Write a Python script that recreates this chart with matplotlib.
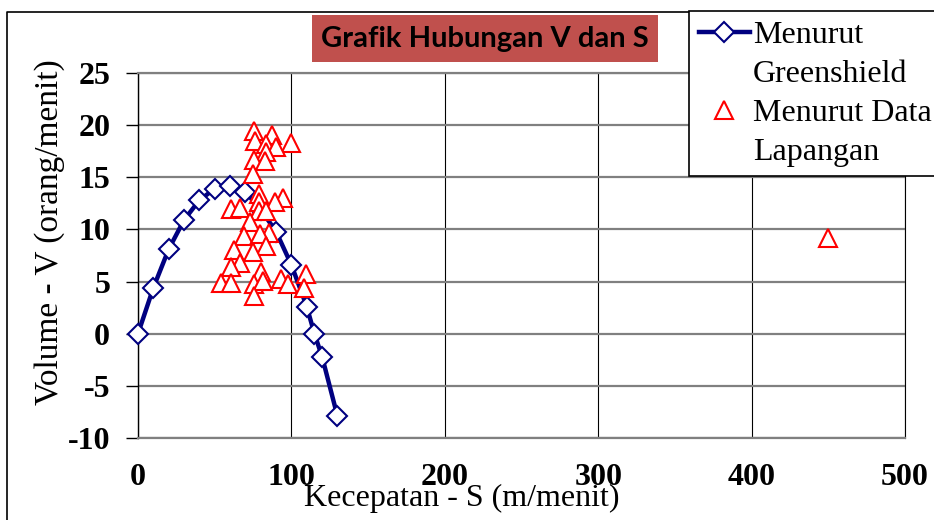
import matplotlib.pyplot as plt
from matplotlib.lines import Line2D
from matplotlib.patches import Rectangle

# Greenshield model curve
s_greenshield = [0, 10, 20, 30, 40, 50, 60, 70, 80, 90, 100, 110, 115, 120, 130]
v_greenshield = [0, 4.4, 8.1, 10.9, 12.8, 13.9, 14.2, 13.6, 11.9, 9.8, 6.6, 2.6, 0, -2.2, -7.9]

# field data (data lapangan)
s_lapangan = [75.5, 87.2, 99.9, 76, 83.6, 90, 83.6, 75.5, 82.5, 74.9, 79.2, 94.4, 89,
              60.8, 66.2, 79.2, 79.2, 72.7, 83.6, 85.7, 69.4, 79.5, 83.6, 74.8, 62.9,
              66.2, 60.8, 80.3, 109.6, 93.4, 54.2, 60.8, 75.9, 81.5, 97.7, 108.5, 75.9, 450]
v_lapangan = [19.4, 19.1, 18.3, 18.5, 18.2, 17.9, 17.4, 16.7, 16.6, 15.3, 13.4, 13.0, 12.6,
              12.0, 12.1, 12.6, 11.8, 10.7, 11.8, 9.7, 9.4, 9.6, 8.4, 7.8, 8.0,
              6.8, 6.4, 5.9, 5.7, 5.2, 4.9, 4.9, 4.8, 5.1, 4.8, 4.4, 3.6, 9.2]

x_ticks = [0, 100, 200, 300, 400, 500]
y_ticks = [-10, -5, 0, 5, 10, 15, 20, 25]

plt.rcParams['font.family'] = ['Liberation Serif', 'DejaVu Serif']

W, H = 934, 520
fig = plt.figure(figsize=(W / 100, H / 100), dpi=100)
ax = fig.add_axes([138 / W, 1 - 438 / H, (905 - 138) / W, (438 - 73) / H])

navy = '#000080'
ax.plot(s_greenshield, v_greenshield, color=navy, lw=3.2, marker='D', ms=10,
        mfc='white', mec=navy, mew=1.5, zorder=3, clip_on=False)
ax.plot(s_lapangan, v_lapangan, ls='none', marker='^', ms=13.5, mfc='white',
        mec='red', mew=1.5, zorder=4, clip_on=False)

ax.set_xlim(0, 500)
ax.set_ylim(-10, 25)
ax.set_xticks(x_ticks)
ax.set_yticks(y_ticks)
ax.set_xticklabels([str(t) for t in x_ticks], fontsize=23, fontweight='bold')
ax.set_yticklabels([str(t) for t in y_ticks], fontsize=23, fontweight='bold')
ax.tick_params(axis='x', length=0, pad=18)
ax.tick_params(axis='y', length=9, width=1, direction='out', pad=11)

ax.yaxis.grid(True, color='#808080', lw=1.6)
ax.xaxis.grid(True, color='black', lw=0.8)
ax.set_axisbelow(True)
ax.spines['left'].set_color('black')
ax.spines['left'].set_linewidth(1)
ax.spines['bottom'].set_color('#808080')
ax.spines['bottom'].set_linewidth(1.6)
ax.spines['top'].set_color('#808080')
ax.spines['top'].set_linewidth(1.6)
ax.spines['right'].set_color('black')
ax.spines['right'].set_linewidth(0.8)

fig.text(50 / W, 1 - 232 / H, 'Volume - V (orang/menit)', rotation=90,
         ha='center', va='center', fontsize=24)
fig.text(462 / W, 1 - 498 / H, 'Kecepatan - S (m/menit)',
         ha='center', va='center', fontsize=23)

# outer chart frame
fig.add_artist(Line2D([7 / W, 7 / W, 1], [0, 1 - 12 / H, 1 - 12 / H],
                      transform=fig.transFigure, color='black', lw=1.2))

# title box
fig.add_artist(Rectangle((312 / W, 1 - 62 / H), 346 / W, 47 / H,
                         transform=fig.transFigure, facecolor='#C0504D', edgecolor='none'))
fig.text(485 / W, 1 - 39 / H, 'Grafik Hubungan V dan S', ha='center', va='center',
         fontsize=21, fontweight='bold', family='Lato', color='black')

# legend: handle sits on the first line of each two-line label
blank = Line2D([], [], ls='none')
handles = [Line2D([], [], color=navy, lw=3.2, marker='D', ms=10, mfc='white', mec=navy, mew=1.5),
           blank,
           Line2D([], [], ls='none', marker='^', ms=13.5, mfc='white', mec='red', mew=1.5),
           blank]
labels = ['Menurut', 'Greenshield', 'Menurut Data', 'Lapangan']
leg = fig.legend(handles, labels,
                 loc='upper left', bbox_to_anchor=(689 / W, 1 - 11 / H),
                 bbox_transform=fig.transFigure, fontsize=23, frameon=True,
                 fancybox=False, edgecolor='black', framealpha=1,
                 handlelength=1.6, handletextpad=0.1, labelspacing=0.3,
                 borderpad=0.3, borderaxespad=0)
leg.get_frame().set_linewidth(1.2)

plt.savefig('out.png', dpi=100)
